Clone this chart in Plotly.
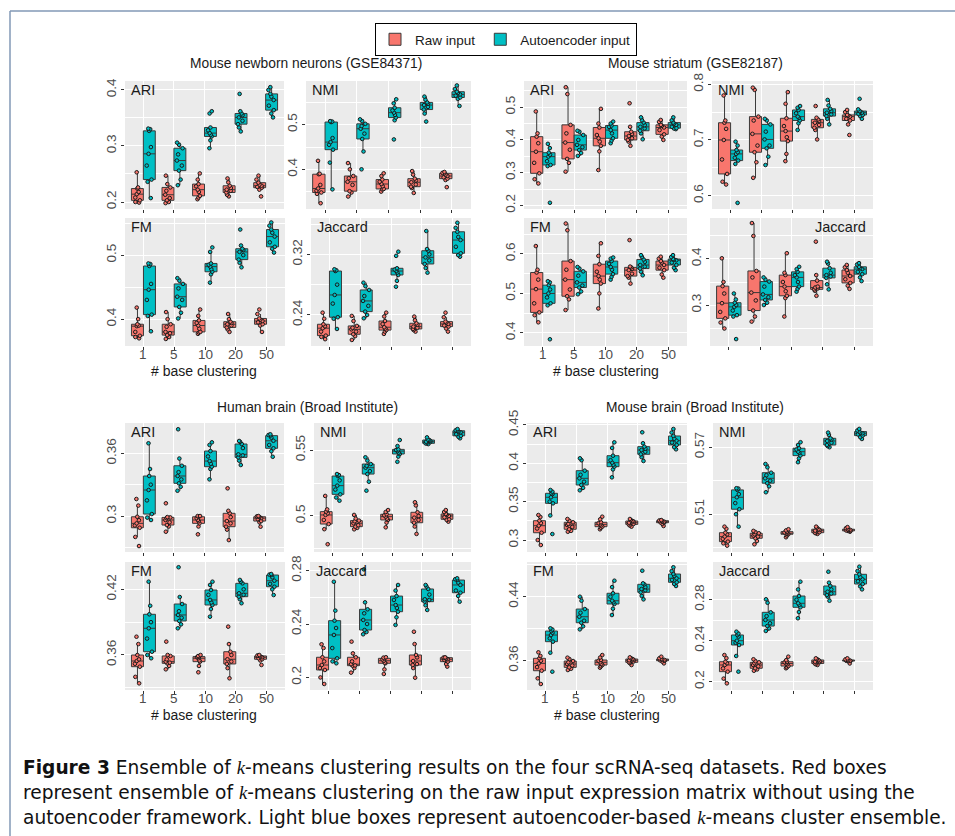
import plotly.graph_objects as go

W, H = 955, 836
FONT = "Liberation Sans, Arial, Helvetica, sans-serif"
CAPTION_FONT = "DejaVu Sans, Liberation Sans, sans-serif"

CATS = ["1", "5", "10", "20", "50"]
RAW_NAME = "Raw input"
AE_NAME = "Autoencoder input"
RAW_COLOR = "#F8766D"
AE_COLOR = "#00BFC4"

# ---------------- data: Mouse newborn neurons (GSE84371) ----------------
newborn_ari_raw = [[0.199, 0.2, 0.203, 0.208, 0.214, 0.218, 0.224, 0.226, 0.253],
                   [0.198, 0.2, 0.203, 0.207, 0.213, 0.22, 0.226, 0.232, 0.247],
                   [0.205, 0.208, 0.211, 0.218, 0.222, 0.228, 0.232, 0.24, 0.251],
                   [0.21, 0.213, 0.217, 0.22, 0.222, 0.225, 0.229, 0.235, 0.242],
                   [0.21, 0.222, 0.2255, 0.227, 0.229, 0.231, 0.2345, 0.24, 0.247]]
newborn_ari_ae = [[0.207, 0.236, 0.24, 0.265, 0.286, 0.298, 0.327, 0.33, 0.331],
                  [0.23, 0.24, 0.256, 0.265, 0.274, 0.285, 0.296, 0.302, 0.306],
                  [0.296, 0.31, 0.317, 0.32, 0.323, 0.328, 0.333, 0.358, 0.362],
                  [0.326, 0.333, 0.339, 0.345, 0.351, 0.355, 0.358, 0.362, 0.393],
                  [0.351, 0.358, 0.364, 0.372, 0.382, 0.388, 0.393, 0.4, 0.405]]
newborn_nmi_raw = [[0.324, 0.345, 0.348, 0.352, 0.357, 0.365, 0.389, 0.39, 0.419],
                   [0.339, 0.348, 0.351, 0.365, 0.372, 0.38, 0.385, 0.4, 0.414],
                   [0.35, 0.355, 0.356, 0.362, 0.367, 0.372, 0.377, 0.385, 0.391],
                   [0.347, 0.358, 0.361, 0.366, 0.371, 0.375, 0.379, 0.388, 0.396],
                   [0.36, 0.376, 0.379, 0.382, 0.385, 0.388, 0.391, 0.392, 0.394]]
newborn_nmi_ae = [[0.355, 0.415, 0.444, 0.455, 0.461, 0.47, 0.506, 0.507, 0.508],
                  [0.4, 0.44, 0.468, 0.48, 0.491, 0.497, 0.502, 0.508, 0.512],
                  [0.467, 0.51, 0.516, 0.522, 0.527, 0.532, 0.538, 0.548, 0.557],
                  [0.507, 0.525, 0.534, 0.54, 0.544, 0.547, 0.55, 0.556, 0.563],
                  [0.542, 0.558, 0.561, 0.565, 0.568, 0.571, 0.574, 0.58, 0.588]]
newborn_fm_raw = [[0.37, 0.372, 0.374, 0.38, 0.389, 0.39, 0.392, 0.4, 0.418],
                  [0.369, 0.372, 0.375, 0.378, 0.38, 0.388, 0.392, 0.4, 0.411],
                  [0.377, 0.379, 0.38, 0.385, 0.39, 0.394, 0.398, 0.405, 0.415],
                  [0.38, 0.384, 0.387, 0.39, 0.392, 0.394, 0.396, 0.4, 0.408],
                  [0.38, 0.39, 0.392, 0.395, 0.397, 0.399, 0.401, 0.408, 0.415]]
newborn_fm_ae = [[0.381, 0.405, 0.407, 0.43, 0.446, 0.455, 0.483, 0.486, 0.487],
                 [0.401, 0.41, 0.419, 0.43, 0.435, 0.448, 0.455, 0.46, 0.464],
                 [0.457, 0.47, 0.474, 0.478, 0.482, 0.485, 0.487, 0.505, 0.512],
                 [0.481, 0.488, 0.493, 0.5, 0.505, 0.508, 0.51, 0.515, 0.54],
                 [0.504, 0.51, 0.513, 0.52, 0.529, 0.535, 0.54, 0.546, 0.551]]
newborn_jac_raw = [[0.208, 0.211, 0.2127, 0.218, 0.2225, 0.225, 0.2277, 0.235, 0.243],
                   [0.207, 0.212, 0.2145, 0.218, 0.221, 0.223, 0.2255, 0.232, 0.2387],
                   [0.215, 0.218, 0.22, 0.222, 0.2238, 0.228, 0.232, 0.238, 0.243],
                   [0.218, 0.22, 0.2215, 0.223, 0.2246, 0.227, 0.229, 0.233, 0.2378],
                   [0.218, 0.222, 0.2246, 0.226, 0.2281, 0.23, 0.2312, 0.237, 0.243]]
newborn_jac_ae = [[0.2215, 0.235, 0.237, 0.255, 0.2664, 0.28, 0.298, 0.299, 0.3003],
                  [0.2356, 0.24, 0.2444, 0.252, 0.2585, 0.265, 0.273, 0.278, 0.2826],
                  [0.2773, 0.285, 0.2928, 0.296, 0.298, 0.3, 0.3016, 0.318, 0.3235],
                  [0.2958, 0.302, 0.3073, 0.312, 0.316, 0.32, 0.3248, 0.327, 0.3508],
                  [0.3169, 0.319, 0.3214, 0.33, 0.3389, 0.343, 0.3498, 0.355, 0.3617]]

# ---------------- data: Mouse striatum (GSE82187) ----------------
striatum_ari_raw = [[0.267, 0.28, 0.298, 0.33, 0.364, 0.39, 0.41, 0.42, 0.487],
                    [0.303, 0.33, 0.342, 0.37, 0.392, 0.42, 0.446, 0.54, 0.561],
                    [0.308, 0.365, 0.382, 0.395, 0.405, 0.415, 0.438, 0.45, 0.495],
                    [0.382, 0.395, 0.4, 0.405, 0.412, 0.418, 0.425, 0.44, 0.512],
                    [0.4, 0.41, 0.417, 0.43, 0.438, 0.443, 0.446, 0.455, 0.461]]
striatum_ari_ae = [[0.208, 0.32, 0.3235, 0.335, 0.349, 0.355, 0.361, 0.375, 0.388],
                   [0.351, 0.36, 0.369, 0.378, 0.385, 0.4, 0.415, 0.425, 0.428],
                   [0.39, 0.398, 0.405, 0.42, 0.43, 0.44, 0.444, 0.45, 0.456],
                   [0.402, 0.42, 0.428, 0.435, 0.44, 0.445, 0.453, 0.46, 0.469],
                   [0.433, 0.435, 0.436, 0.44, 0.446, 0.45, 0.453, 0.46, 0.469]]
striatum_nmi_raw = [[0.62, 0.625, 0.639, 0.665, 0.7, 0.72, 0.731, 0.735, 0.78],
                    [0.632, 0.66, 0.678, 0.69, 0.711, 0.735, 0.742, 0.79, 0.794],
                    [0.662, 0.675, 0.698, 0.705, 0.716, 0.725, 0.739, 0.765, 0.786],
                    [0.701, 0.718, 0.722, 0.727, 0.731, 0.734, 0.737, 0.74, 0.761],
                    [0.709, 0.728, 0.735, 0.738, 0.742, 0.744, 0.745, 0.75, 0.754]]
striatum_nmi_ae = [[0.587, 0.657, 0.663, 0.668, 0.675, 0.678, 0.682, 0.69, 0.697],
                   [0.655, 0.67, 0.685, 0.69, 0.701, 0.715, 0.728, 0.735, 0.738],
                   [0.718, 0.73, 0.735, 0.74, 0.742, 0.748, 0.754, 0.758, 0.761],
                   [0.728, 0.738, 0.743, 0.746, 0.749, 0.752, 0.756, 0.762, 0.772],
                   [0.738, 0.743, 0.745, 0.747, 0.749, 0.751, 0.752, 0.755, 0.774]]
striatum_fm_raw = [[0.427, 0.445, 0.452, 0.475, 0.511, 0.535, 0.553, 0.56, 0.62],
                   [0.458, 0.485, 0.493, 0.51, 0.535, 0.56, 0.582, 0.66, 0.677],
                   [0.462, 0.5, 0.525, 0.535, 0.544, 0.555, 0.574, 0.595, 0.627],
                   [0.525, 0.54, 0.544, 0.55, 0.559, 0.562, 0.566, 0.568, 0.635],
                   [0.54, 0.548, 0.559, 0.565, 0.572, 0.578, 0.582, 0.588, 0.593]]
striatum_fm_ae = [[0.384, 0.47, 0.475, 0.49, 0.5, 0.51, 0.521, 0.528, 0.531],
                  [0.498, 0.505, 0.515, 0.52, 0.528, 0.545, 0.556, 0.563, 0.567],
                  [0.535, 0.542, 0.549, 0.56, 0.567, 0.575, 0.582, 0.588, 0.591],
                  [0.546, 0.555, 0.563, 0.568, 0.572, 0.58, 0.586, 0.592, 0.597],
                  [0.559, 0.565, 0.572, 0.578, 0.584, 0.586, 0.587, 0.592, 0.597]]
striatum_jac_raw = [[0.249, 0.262, 0.271, 0.285, 0.304, 0.325, 0.341, 0.35, 0.4015],
                    [0.264, 0.275, 0.288, 0.31, 0.327, 0.36, 0.374, 0.45, 0.478],
                    [0.275, 0.315, 0.32, 0.33, 0.34, 0.35, 0.365, 0.37, 0.4125],
                    [0.32, 0.331, 0.334, 0.336, 0.338, 0.34, 0.353, 0.365, 0.4376],
                    [0.335, 0.342, 0.348, 0.356, 0.363, 0.37, 0.376, 0.382, 0.387]]
striatum_jac_ae = [[0.226, 0.275, 0.278, 0.288, 0.296, 0.3, 0.305, 0.312, 0.325],
                   [0.3, 0.305, 0.311, 0.317, 0.323, 0.34, 0.351, 0.355, 0.36],
                   [0.329, 0.335, 0.34, 0.35, 0.36, 0.365, 0.372, 0.378, 0.383],
                   [0.334, 0.345, 0.359, 0.362, 0.365, 0.37, 0.38, 0.39, 0.394],
                   [0.352, 0.36, 0.367, 0.372, 0.378, 0.38, 0.383, 0.388, 0.391]]

# ---------------- data: Human brain (Broad Institute) ----------------
human_ari_raw = [[0.2713, 0.28, 0.2888, 0.291, 0.293, 0.296, 0.2993, 0.31, 0.3163],
                 [0.285, 0.29, 0.2914, 0.294, 0.2962, 0.298, 0.2987, 0.299, 0.3122],
                 [0.2825, 0.29, 0.293, 0.295, 0.2962, 0.298, 0.2993, 0.3, 0.3],
                 [0.277, 0.287, 0.2898, 0.293, 0.2952, 0.299, 0.3026, 0.305, 0.3265],
                 [0.2898, 0.294, 0.2952, 0.297, 0.298, 0.299, 0.2993, 0.2997, 0.3]]
human_ari_ae = [[0.2962, 0.2985, 0.3019, 0.315, 0.3249, 0.33, 0.3383, 0.345, 0.3696],
                [0.3242, 0.328, 0.3313, 0.335, 0.3383, 0.342, 0.3481, 0.355, 0.383],
                [0.3351, 0.345, 0.3472, 0.35, 0.3526, 0.357, 0.3622, 0.368, 0.3705],
                [0.3488, 0.353, 0.3561, 0.358, 0.359, 0.365, 0.3689, 0.371, 0.3718],
                [0.3567, 0.362, 0.3648, 0.368, 0.372, 0.375, 0.3769, 0.3775, 0.3782]]
human_nmi_raw = [[0.4786, 0.49, 0.4939, 0.497, 0.5008, 0.502, 0.5033, 0.505, 0.5152],
                 [0.4899, 0.491, 0.4919, 0.493, 0.4945, 0.496, 0.4965, 0.498, 0.5008],
                 [0.4914, 0.495, 0.497, 0.498, 0.4995, 0.5005, 0.5013, 0.503, 0.5045],
                 [0.4864, 0.492, 0.4949, 0.497, 0.4987, 0.5, 0.5028, 0.508, 0.5104],
                 [0.4957, 0.497, 0.4975, 0.499, 0.5, 0.501, 0.5015, 0.503, 0.5045]]
human_nmi_ae = [[0.5116, 0.514, 0.5164, 0.52, 0.523, 0.527, 0.5303, 0.531, 0.5318],
                [0.5192, 0.526, 0.5318, 0.534, 0.5366, 0.538, 0.5394, 0.542, 0.5445],
                [0.5411, 0.545, 0.547, 0.548, 0.5492, 0.55, 0.5505, 0.553, 0.5576],
                [0.5545, 0.555, 0.5551, 0.556, 0.5563, 0.557, 0.5576, 0.558, 0.5596],
                [0.5589, 0.56, 0.5608, 0.562, 0.5634, 0.564, 0.5646, 0.565, 0.5659]]
human_fm_raw = [[0.3341, 0.34, 0.3493, 0.352, 0.3545, 0.356, 0.36, 0.37, 0.3767],
                [0.3469, 0.35, 0.3524, 0.353, 0.3539, 0.356, 0.3591, 0.36, 0.3722],
                [0.3442, 0.35, 0.3539, 0.355, 0.357, 0.358, 0.3585, 0.359, 0.36],
                [0.3387, 0.348, 0.3518, 0.354, 0.3561, 0.36, 0.363, 0.37, 0.3859],
                [0.3509, 0.355, 0.3561, 0.357, 0.3579, 0.3585, 0.3591, 0.3596, 0.36]]
human_fm_ae = [[0.357, 0.36, 0.363, 0.375, 0.3844, 0.39, 0.3972, 0.405, 0.427],
               [0.3844, 0.388, 0.3911, 0.394, 0.3966, 0.4, 0.4066, 0.413, 0.4402],
               [0.395, 0.402, 0.4057, 0.408, 0.4103, 0.415, 0.4194, 0.424, 0.427],
               [0.4073, 0.411, 0.4133, 0.415, 0.4164, 0.42, 0.4255, 0.427, 0.4286],
               [0.4148, 0.42, 0.4224, 0.425, 0.4279, 0.431, 0.4331, 0.4335, 0.434]]
human_jac_raw = [[0.1951, 0.2, 0.2056, 0.207, 0.2093, 0.212, 0.2151, 0.222, 0.2248],
                 [0.2036, 0.207, 0.2088, 0.209, 0.2099, 0.212, 0.2151, 0.218, 0.2268],
                 [0.2026, 0.206, 0.2106, 0.211, 0.2125, 0.2135, 0.2143, 0.2148, 0.2151],
                 [0.1998, 0.207, 0.2093, 0.21, 0.2123, 0.215, 0.2168, 0.225, 0.2342],
                 [0.2081, 0.21, 0.2118, 0.213, 0.2136, 0.214, 0.2148, 0.2149, 0.215]]
human_jac_ae = [[0.2106, 0.212, 0.2143, 0.222, 0.2318, 0.237, 0.2425, 0.25, 0.2716],
                [0.2323, 0.234, 0.2355, 0.24, 0.243, 0.248, 0.251, 0.2562, 0.2809],
                [0.2393, 0.245, 0.2492, 0.252, 0.2542, 0.258, 0.2609, 0.265, 0.2692],
                [0.2505, 0.254, 0.2567, 0.258, 0.2585, 0.262, 0.2662, 0.268, 0.2692],
                [0.2567, 0.261, 0.2634, 0.265, 0.2692, 0.271, 0.2729, 0.2735, 0.2742]]

# ---------------- data: Mouse brain (Broad Institute) ----------------
mbrain_ari_raw = [[0.2935, 0.3, 0.3095, 0.315, 0.3187, 0.322, 0.3252, 0.33, 0.3326],
                  [0.3108, 0.312, 0.314, 0.317, 0.3196, 0.321, 0.3231, 0.325, 0.3274],
                  [0.314, 0.316, 0.3174, 0.319, 0.3204, 0.322, 0.3231, 0.327, 0.3304],
                  [0.3174, 0.319, 0.3204, 0.321, 0.3226, 0.324, 0.3248, 0.326, 0.3274],
                  [0.3183, 0.321, 0.3226, 0.323, 0.3239, 0.3245, 0.3252, 0.3255, 0.326]]
mbrain_ari_ae = [[0.3078, 0.332, 0.3478, 0.35, 0.3557, 0.36, 0.3609, 0.363, 0.3652],
                 [0.3648, 0.368, 0.3717, 0.376, 0.3804, 0.385, 0.3904, 0.404, 0.4065],
                 [0.3817, 0.392, 0.3956, 0.398, 0.4008, 0.404, 0.4099, 0.42, 0.4273],
                 [0.403, 0.408, 0.4117, 0.415, 0.4173, 0.419, 0.4217, 0.4261, 0.4404],
                 [0.4182, 0.421, 0.4239, 0.427, 0.4295, 0.432, 0.4356, 0.44, 0.4447]]
mbrain_nmi_raw = [[0.4819, 0.484, 0.4855, 0.488, 0.49, 0.492, 0.4935, 0.497, 0.4989],
                  [0.4831, 0.486, 0.4885, 0.49, 0.4908, 0.492, 0.493, 0.494, 0.4951],
                  [0.4894, 0.491, 0.4921, 0.4925, 0.493, 0.4937, 0.4944, 0.4955, 0.4966],
                  [0.4924, 0.493, 0.4935, 0.494, 0.4953, 0.496, 0.4966, 0.498, 0.4989],
                  [0.4944, 0.495, 0.4951, 0.4955, 0.496, 0.4963, 0.4966, 0.4975, 0.4985]]
mbrain_nmi_ae = [[0.4989, 0.51, 0.5145, 0.52, 0.5252, 0.528, 0.5318, 0.533, 0.5333],
                 [0.5297, 0.535, 0.5378, 0.54, 0.5422, 0.545, 0.5472, 0.552, 0.555],
                 [0.5566, 0.56, 0.5625, 0.565, 0.566, 0.568, 0.5691, 0.572, 0.5745],
                 [0.57, 0.571, 0.572, 0.574, 0.5756, 0.577, 0.578, 0.581, 0.5831],
                 [0.5774, 0.579, 0.5804, 0.5815, 0.5825, 0.583, 0.584, 0.585, 0.5864]]
mbrain_fm_raw = [[0.3309, 0.338, 0.3475, 0.352, 0.3567, 0.36, 0.363, 0.366, 0.3705],
                 [0.3484, 0.35, 0.3517, 0.354, 0.3559, 0.358, 0.3596, 0.362, 0.3638],
                 [0.3513, 0.353, 0.3546, 0.356, 0.358, 0.36, 0.3609, 0.364, 0.3671],
                 [0.3546, 0.357, 0.358, 0.359, 0.3605, 0.3612, 0.3621, 0.3632, 0.3642],
                 [0.3567, 0.359, 0.36, 0.3605, 0.361, 0.3615, 0.3621, 0.363, 0.365]]
mbrain_fm_ae = [[0.3463, 0.37, 0.3838, 0.388, 0.3921, 0.395, 0.3971, 0.399, 0.4005],
                [0.3992, 0.403, 0.4075, 0.41, 0.415, 0.42, 0.4246, 0.435, 0.44],
                [0.4171, 0.425, 0.4309, 0.433, 0.435, 0.44, 0.4443, 0.452, 0.46],
                [0.4367, 0.441, 0.4455, 0.448, 0.4496, 0.452, 0.4555, 0.4567, 0.4725],
                [0.4534, 0.456, 0.458, 0.461, 0.463, 0.466, 0.4684, 0.472, 0.4768]]
mbrain_jac_raw = [[0.1984, 0.203, 0.2098, 0.213, 0.2163, 0.218, 0.2195, 0.223, 0.226],
                  [0.2107, 0.212, 0.2131, 0.215, 0.2163, 0.218, 0.2189, 0.22, 0.2219],
                  [0.2131, 0.214, 0.2153, 0.217, 0.2178, 0.219, 0.2195, 0.221, 0.2244],
                  [0.2163, 0.217, 0.2178, 0.219, 0.2195, 0.22, 0.2212, 0.222, 0.2228],
                  [0.2178, 0.22, 0.2202, 0.2204, 0.2205, 0.2208, 0.2212, 0.2218, 0.2228]]
mbrain_jac_ae = [[0.2098, 0.2251, 0.2358, 0.238, 0.24, 0.244, 0.2456, 0.247, 0.2488],
                 [0.2495, 0.252, 0.2543, 0.257, 0.2602, 0.264, 0.2677, 0.277, 0.2804],
                 [0.2619, 0.268, 0.2726, 0.275, 0.2765, 0.28, 0.2836, 0.29, 0.2976],
                 [0.279, 0.283, 0.2846, 0.286, 0.2878, 0.29, 0.2934, 0.2966, 0.3073],
                 [0.2901, 0.293, 0.2953, 0.298, 0.2999, 0.302, 0.3048, 0.308, 0.3122]]

# y tick labels per panel
newborn_ticks = [[0.2, 0.3, 0.4], [0.4, 0.5], [0.4, 0.5], [0.24, 0.32]]
striatum_ticks = [[0.2, 0.3, 0.4, 0.5], [0.6, 0.7, 0.8], [0.4, 0.5, 0.6], [0.3, 0.4]]
human_ticks = [[0.3, 0.36], [0.5, 0.55], [0.36, 0.42], [0.2, 0.24, 0.28]]
mbrain_ticks = [[0.3, 0.35, 0.4, 0.45], [0.51, 0.57], [0.36, 0.44], [0.2, 0.24, 0.28]]

GROUP_TITLES = ["Mouse newborn neurons (GSE84371)", "Mouse striatum (GSE82187)",
                "Human brain (Broad Institute)", "Mouse brain (Broad Institute)"]
X_TITLE = "# base clustering"

# ---------------- layout geometry (pixels) ----------------
panels = [
    # data raw, data ae, ticks, label, x0, x1, y0, y1, yrange, xlabels, label_right
    (newborn_ari_raw, newborn_ari_ae, newborn_ticks[0], "ARI", 125, 284, 81, 209, [0.1875, 0.416], False, False),
    (newborn_nmi_raw, newborn_nmi_ae, newborn_ticks[1], "NMI", 306, 471, 81, 209, [0.311, 0.598], False, False),
    (newborn_fm_raw, newborn_fm_ae, newborn_ticks[2], "FM", 125, 285, 218, 346, [0.358, 0.558], True, False),
    (newborn_jac_raw, newborn_jac_ae, newborn_ticks[3], "Jaccard", 311, 471, 218, 346, [0.199, 0.368], False, False),
    (striatum_ari_raw, striatum_ari_ae, striatum_ticks[0], "ARI", 524, 687, 81, 209, [0.189, 0.580], False, False),
    (striatum_nmi_raw, striatum_nmi_ae, striatum_ticks[1], "NMI", 712, 873, 81, 209, [0.576, 0.806], False, False),
    (striatum_fm_raw, striatum_fm_ae, striatum_ticks[2], "FM", 524, 687, 218, 346, [0.367, 0.691], True, False),
    (striatum_jac_raw, striatum_jac_ae, striatum_ticks[3], "Jaccard", 710, 873, 218, 346, [0.211, 0.489], False, True),
    (human_ari_raw, human_ari_ae, human_ticks[0], "ARI", 125, 284, 423, 552, [0.2656, 0.389], False, False),
    (human_nmi_raw, human_nmi_ae, human_ticks[1], "NMI", 314, 471, 423, 552, [0.4727, 0.5705], False, False),
    (human_fm_raw, human_fm_ae, human_ticks[2], "FM", 125, 285, 562, 690, [0.328, 0.445], True, False),
    (human_jac_raw, human_jac_ae, human_ticks[3], "Jaccard", 310, 471, 562, 690, [0.1906, 0.2864], False, False),
    (mbrain_ari_raw, mbrain_ari_ae, mbrain_ticks[0], "ARI", 527, 687, 423, 552, [0.2844, 0.4525], False, False),
    (mbrain_nmi_raw, mbrain_nmi_ae, mbrain_ticks[1], "NMI", 713, 873, 423, 552, [0.4762, 0.5917], False, False),
    (mbrain_fm_raw, mbrain_fm_ae, mbrain_ticks[2], "FM", 527, 687, 562, 690, [0.3234, 0.4834], True, False),
    (mbrain_jac_raw, mbrain_jac_ae, mbrain_ticks[3], "Jaccard", 713, 873, 562, 690, [0.1919, 0.3168], False, False),
]

group_title_pos = [(306, 64), (695, 64), (307, 407), (695, 407)]
xtitle_pos = [(204, 371), (606, 371), (204, 715), (607, 715)]


def px(x):
    return x / W


def py(y):
    return 1 - y / H


def flatten(vals):
    xs, ys = [], []
    for c, v in zip(CATS, vals):
        xs += [c] * len(v)
        ys += list(v)
    return xs, ys


fig = go.Figure()
layout_axes = {}
annotations = []
TICKFONT = dict(family=FONT, size=13.5, color="#4d4d4d")

for i, (raw, ae, ticks, label, x0, x1, y0, y1, yr, xlabels, label_right) in enumerate(panels):
    n = i + 1
    xa, ya = ("x" if n == 1 else f"x{n}"), ("y" if n == 1 else f"y{n}")
    for vals, name, color in ((raw, RAW_NAME, RAW_COLOR), (ae, AE_NAME, AE_COLOR)):
        xs, ys = flatten(vals)
        fig.add_trace(go.Box(
            x=xs, y=ys, name=name, legendgroup=name, showlegend=(i == 0), offsetgroup=name,
            xaxis=xa, yaxis=ya, fillcolor=color,
            line=dict(color="#3a3a3a", width=1),
            boxpoints="all", jitter=0.55, pointpos=0, whiskerwidth=0,
            quartilemethod="inclusive",
            marker=dict(color=color, size=3.6, line=dict(color="#1a1a1a", width=1)),
            hoverinfo="y",
        ))
    step = ticks[1] - ticks[0]
    minor_vals = [ticks[0] - step / 2] + [t + step / 2 for t in ticks]
    key_x = "xaxis" if n == 1 else f"xaxis{n}"
    key_y = "yaxis" if n == 1 else f"yaxis{n}"
    layout_axes[key_x] = dict(
        domain=[px(x0), px(x1)], anchor=ya, type="category", automargin=False,
        categoryorder="array", categoryarray=CATS, range=[-0.6, 4.6],
        showgrid=True, gridcolor="white", gridwidth=1.3, zeroline=False,
        showline=False, ticks="outside", ticklen=3, tickwidth=1, tickcolor="#333333",
        showticklabels=False, fixedrange=True,
    )
    layout_axes[key_y] = dict(
        domain=[py(y1), py(y0)], anchor=xa, range=yr, automargin=False,
        tickmode="array", tickvals=ticks, ticktext=[f"{t:g}" for t in ticks],
        tickangle=-90, showgrid=True, gridcolor="white", gridwidth=1.3, zeroline=False,
        showline=False, ticks="outside", ticklen=3, tickwidth=1, tickcolor="#333333",
        tickfont=TICKFONT,
        minor=dict(tickmode="array", tickvals=minor_vals, showgrid=True,
                   gridcolor="white", gridwidth=0.6, ticks=""),
        fixedrange=True,
    )
    # x tick labels (placed at each category position of the category axis)
    if xlabels:
        for j, c in enumerate(CATS):
            annotations.append(dict(x=j, xref=xa, y=py(y1 + 8.5), yref="paper", text=c,
                                    showarrow=False, xanchor="center", yanchor="middle",
                                    font=TICKFONT))
    # panel label
    if label_right:
        annotations.append(dict(x=px(x1 - 5), y=py(y0 + 9), xref="paper", yref="paper",
                                text=label, showarrow=False, xanchor="right", yanchor="middle",
                                font=dict(family=FONT, size=14.5, color="#1a1a1a")))
    else:
        annotations.append(dict(x=px(x0 + 4), y=py(y0 + 9), xref="paper", yref="paper",
                                text=label, showarrow=False, xanchor="left", yanchor="middle",
                                font=dict(family=FONT, size=14.5, color="#1a1a1a")))

for title, (gx, gy) in zip(GROUP_TITLES, group_title_pos):
    annotations.append(dict(x=px(gx), y=py(gy), xref="paper", yref="paper", text=title,
                            showarrow=False, xanchor="center", yanchor="middle",
                            font=dict(family=FONT, size=13.8, color="#1a1a1a")))
for (tx, ty) in xtitle_pos:
    annotations.append(dict(x=px(tx), y=py(ty), xref="paper", yref="paper", text=X_TITLE,
                            showarrow=False, xanchor="center", yanchor="middle",
                            font=dict(family=FONT, size=14, color="#1a1a1a")))

# caption
K = "<i><span style='font-family:Liberation Serif, DejaVu Serif, serif'>k</span></i>"
caption_lines = [
    f"<b>Figure 3</b> Ensemble of {K}-means clustering results on the four scRNA-seq datasets. Red boxes",
    f"represent ensemble of {K}-means clustering on the raw input expression matrix without using the",
    f"autoencoder framework. Light blue boxes represent autoencoder-based {K}-means cluster ensemble.",
]
caption_y = [767, 792, 817]
for line, cy in zip(caption_lines, caption_y):
    annotations.append(dict(x=px(21), y=py(cy), xref="paper", yref="paper", text=line,
                            showarrow=False, xanchor="left", yanchor="middle",
                            font=dict(family=CAPTION_FONT, size=18.6, color="#111111")))

shapes = [
    dict(type="line", xref="paper", yref="paper", x0=px(10), x1=px(965), y0=py(11), y1=py(11),
         line=dict(color="#8299b6", width=1.5)),
    dict(type="line", xref="paper", yref="paper", x0=px(10), x1=px(10), y0=py(11), y1=py(860),
         line=dict(color="#8299b6", width=1.5)),
]

fig.update_layout(
    template="none",
    width=W, height=H, margin=dict(l=0, r=0, t=0, b=0, autoexpand=False),
    paper_bgcolor="white", plot_bgcolor="#EBEBEB",
    boxmode="group", boxgap=0.22, boxgroupgap=0.0,
    font=dict(family=FONT, color="#1a1a1a"),
    showlegend=True,
    legend=dict(orientation="h", x=px(506), xanchor="center", y=py(23), yanchor="top",
                bordercolor="black", borderwidth=1, bgcolor="white",
                font=dict(family=FONT, size=13.5, color="#1a1a1a"),
                itemwidth=30, tracegroupgap=0),
    annotations=annotations, shapes=shapes,
    **layout_axes,
)

fig.write_html("out.html")
